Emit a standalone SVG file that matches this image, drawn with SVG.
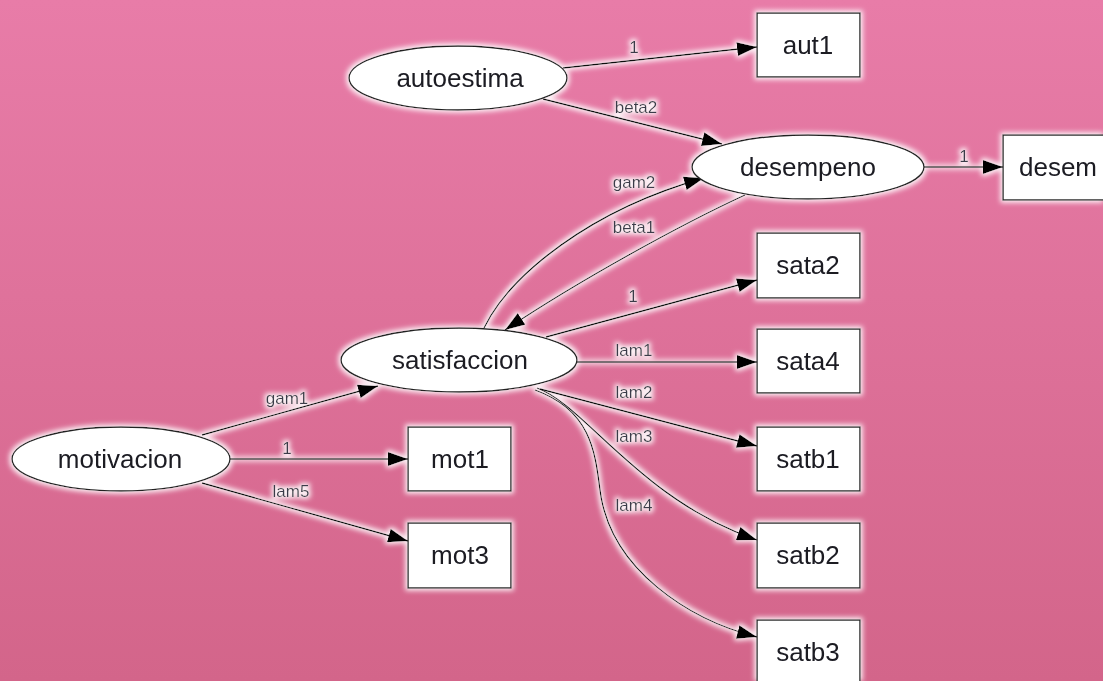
<svg xmlns="http://www.w3.org/2000/svg" width="1103" height="681" viewBox="0 0 1103 681">
<defs>
<linearGradient id="bg" x1="0" y1="0" x2="0" y2="1">
<stop offset="0" stop-color="#E87CA8"/>
<stop offset="1" stop-color="#D3658A"/>
</linearGradient>
<filter id="glow" filterUnits="userSpaceOnUse" x="0" y="0" width="1103" height="681">
<feMorphology in="SourceAlpha" operator="dilate" radius="1.5" result="d"/>
<feGaussianBlur in="d" stdDeviation="2.5" result="b"/>
<feFlood flood-color="#ffffff" flood-opacity="0.9"/>
<feComposite in2="b" operator="in" result="g"/>
<feMerge><feMergeNode in="g"/><feMergeNode in="SourceGraphic"/></feMerge>
</filter>
<marker id="arr" markerUnits="userSpaceOnUse" markerWidth="20" markerHeight="14" refX="20" refY="7" orient="auto">
<path d="M0,0 L20,7 L0,14 z" fill="#000"/>
</marker>
<style>
.n ellipse,.n rect{fill:#fff;stroke:#222;stroke-width:1.4}
.n text{font-family:"Liberation Sans",Arial,sans-serif;font-size:26px;fill:#1a1a22;text-anchor:middle;dominant-baseline:central}
.e path{fill:none;stroke:#111;stroke-width:1.3;marker-end:url(#arr)}
.e text{font-family:"Liberation Sans",Arial,sans-serif;font-size:17px;fill:#3a3a48;text-anchor:middle}
</style>
</defs>
<rect width="1103" height="681" fill="url(#bg)"/>
<g filter="url(#glow)">
<g id="edges" class="e">
<path d="M563,68 L757,47"/><text x="634" y="53">1</text>
<path d="M543,99 L722,144"/><text x="636" y="113">beta2</text>
<path d="M924,167 L1003,167"/><text x="964" y="162">1</text>
<path d="M484,328 C510,275 590,210 704,178"/><text x="634" y="188">gam2</text>
<path d="M745,195 C680,225 580,280 505,330"/><text x="634" y="233">beta1</text>
<path d="M546,337 L757,280"/><text x="633" y="302">1</text>
<path d="M577,362 L757,362"/><text x="634" y="356">lam1</text>
<path d="M540,389 L757,446"/><text x="634" y="398">lam2</text>
<path d="M537,388 C585,405 640,500 757,540"/><text x="634" y="442">lam3</text>
<path d="M535,390 C590,410 595,450 600,490 C610,570 690,620 757,637"/><text x="634" y="511">lam4</text>
<path d="M202,435 L378,386"/><text x="287" y="404">gam1</text>
<path d="M230,459 L408,459"/><text x="287" y="454">1</text>
<path d="M202,483 L408,541"/><text x="291" y="497">lam5</text>
</g>
<g id="autoestima" class="n"><ellipse cx="458" cy="78" rx="109" ry="32"/><text x="460" y="78">autoestima</text></g>
<g id="aut1" class="n"><rect x="757" y="13" width="103" height="64"/><text x="808" y="45">aut1</text></g>
<g id="desempeno" class="n"><ellipse cx="808" cy="167" rx="116" ry="32"/><text x="808" y="167">desempeno</text></g>
<g id="desem" class="n"><rect x="1003" y="135" width="110" height="65"/><text x="1058" y="167">desem</text></g>
<g id="sata2" class="n"><rect x="757" y="233" width="103" height="65"/><text x="808" y="265">sata2</text></g>
<g id="satisfaccion" class="n"><ellipse cx="459" cy="360" rx="118" ry="32"/><text x="460" y="360">satisfaccion</text></g>
<g id="sata4" class="n"><rect x="757" y="329" width="103" height="64"/><text x="808" y="361">sata4</text></g>
<g id="satb1" class="n"><rect x="757" y="427" width="103" height="64"/><text x="808" y="459">satb1</text></g>
<g id="motivacion" class="n"><ellipse cx="121" cy="459" rx="109" ry="32"/><text x="120" y="459">motivacion</text></g>
<g id="mot1" class="n"><rect x="408" y="427" width="103" height="64"/><text x="460" y="459">mot1</text></g>
<g id="mot3" class="n"><rect x="408" y="523" width="103" height="65"/><text x="460" y="555">mot3</text></g>
<g id="satb2" class="n"><rect x="757" y="523" width="103" height="65"/><text x="808" y="555">satb2</text></g>
<g id="satb3" class="n"><rect x="757" y="620" width="103" height="70"/><text x="808" y="652">satb3</text></g>
</g>
</svg>
